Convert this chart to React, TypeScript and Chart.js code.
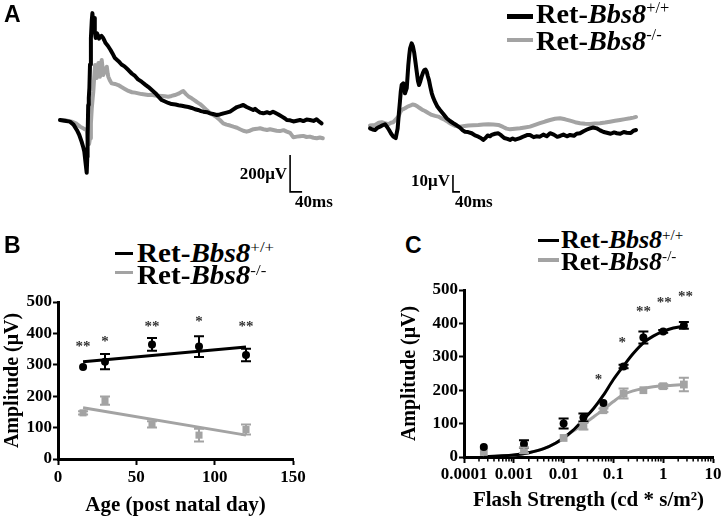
import React, { useEffect, useRef } from 'react';
import { Chart, registerables } from 'chart.js';

Chart.register(...registerables);

const BLACK = '#000000';
const GRAY = '#a3a3a3';
const STAR = '#333333';
const SERIF = '"Liberation Serif", "Times New Roman", Times, serif';
const SANS = '"Liberation Sans", Arial, Helvetica, sans-serif';

// ---------------- Panel A : ERG traces (time in ms, amplitude in µV) ----------------
const aLeftWt: number[][] = [
  [0, 0], [15, -4], [33, -9], [45, -25], [56, -54], [64, -80], [72, -117], [78, -150], [81, -171], [86, -243],
  [89, -286], [91, -200], [92, -97], [94, 81], [96, 120], [98, 173], [100, 300], [103, 443], [106, 540], [108, 578],
  [111, 520], [114, 551], [116, 480], [119, 443], [123, 470], [126, 459], [130, 440], [133, 450], [138, 455], [144, 443],
  [148, 430], [152, 416], [160, 400], [168, 380], [175, 360], [183, 335], [195, 318], [205, 300], [215, 290], [228, 270],
  [240, 250], [250, 238], [260, 220], [272, 207], [285, 190], [295, 178], [306, 162], [318, 145], [329, 125], [339, 108],
  [350, 100], [361, 92], [372, 86], [385, 84], [395, 80], [406, 77], [418, 73], [428, 70], [439, 65], [450, 58],
  [460, 54], [470, 48], [478, 45], [490, 42], [500, 36], [510, 32], [522, 27], [533, 30], [545, 36], [555, 40],
  [567, 45], [578, 57], [590, 70], [600, 75], [611, 81], [622, 70], [633, 62], [644, 54], [650, 60], [656, 52],
  [667, 40], [678, 36], [690, 42], [700, 36], [710, 45], [717, 39], [728, 30], [740, 18], [750, 8], [756, 0],
  [767, -2], [778, -8], [789, -4], [800, 0], [811, -6], [822, 2], [833, 0], [845, -5], [855, 4], [862, -6], [872, -18],
];
const aLeftKo: number[][] = [
  [0, 0], [20, -2], [39, -9], [55, -20], [67, -36], [80, -48], [89, -54], [92, -90], [94, -117], [97, -130],
  [100, -99], [103, -20], [106, 65], [109, 120], [111, 153], [114, 230], [117, 297], [120, 260], [122, 227], [125, 280],
  [128, 308], [130, 260], [133, 234], [136, 290], [139, 324], [142, 280], [144, 243], [150, 270], [156, 288], [159, 250],
  [161, 234], [166, 215], [172, 198], [183, 195], [194, 189], [205, 178], [216, 168], [228, 157], [240, 150], [250, 148],
  [261, 144], [272, 140], [283, 138], [294, 135], [305, 136], [317, 132], [328, 131], [340, 130], [350, 128], [361, 126],
  [372, 130], [383, 135], [395, 142], [405, 152], [411, 157], [420, 140], [430, 125], [439, 117], [450, 105], [458, 95],
  [467, 86], [478, 70], [490, 52], [500, 38], [511, 27], [522, 15], [533, 0], [544, -18], [555, -25], [567, -30],
  [578, -36], [590, -42], [600, -50], [611, -58], [622, -63], [633, -58], [645, -50], [656, -48], [667, -45], [678, -50],
  [690, -54], [700, -50], [711, -54], [722, -58], [733, -60], [745, -55], [756, -63], [767, -70], [778, -94], [789, -90],
  [800, -88], [811, -86], [822, -92], [833, -90], [845, -96], [856, -99], [866, -95], [876, -99],
];
const aRightWt: number[][] = [
  [0, -0.8], [15, -1.5], [29, -1.8], [43, -0.5], [57, 0.2], [72, 1.0], [86, 1.6], [98, 0], [109, -1.8], [121, -4],
  [133, -5.7], [147, -6.6], [158, -0.8], [165, 8], [171, 14.9], [176, 21], [181, 24.7], [190, 25.7], [195, 23], [200, 19.8],
  [210, 22.8], [219, 36.5], [224, 42], [229, 46.3], [238, 49.2], [245, 47.5], [253, 43.4], [260, 38], [267, 32.5], [274, 27],
  [280, 24.7], [288, 27], [295, 29.6], [303, 32], [310, 33.5], [317, 33.8], [324, 32.5], [330, 30], [337, 27.6], [345, 23.5],
  [353, 19.8], [362, 17], [371, 14.9], [385, 12], [400, 10], [420, 7.5], [438, 5.1], [457, 3.5], [476, 2.2], [495, 1],
  [514, -0.4], [530, -2], [543, -2.8], [560, -3], [581, -3.7], [600, -5], [619, -5.7], [633, -6.5], [647, -7.6], [660, -6.5],
  [672, -5], [685, -5.5], [695, -4.7], [715, -4], [733, -3.7], [750, -5], [767, -6.5], [785, -7], [800, -7.6], [815, -6.8],
  [830, -7.5], [857, -6.6], [880, -5.5], [900, -4.7], [914, -4.7], [935, -6], [950, -5.5], [971, -5.7], [990, -4.5], [1010, -5.5],
  [1029, -3.7], [1050, -4.5], [1070, -5.8], [1086, -5.3], [1105, -4.5], [1125, -5.5], [1143, -4.7], [1165, -5.2], [1180, -4], [1200, -3.7],
  [1220, -2.5], [1240, -1.5], [1257, -0.8], [1275, -0.3], [1295, -0.8], [1315, -2], [1335, -3], [1353, -3.4], [1375, -4], [1395, -3.2],
  [1410, -3.7], [1430, -4], [1450, -3], [1467, -3.4], [1490, -3.5], [1505, -2.2], [1520, -1.8],
];
const aRightKo: number[][] = [
  [0, 0.8], [29, 1.2], [50, 2.5], [67, 2.8], [85, 2.2], [105, 1.6], [120, 2.5], [133, 2.8], [148, 4.5], [162, 6.1],
  [172, 8.5], [181, 10], [190, 10.5], [200, 11], [215, 12], [229, 12.5], [243, 13.2], [257, 12.9], [272, 12], [286, 11],
  [300, 10], [314, 9.4], [333, 8.2], [353, 7.1], [372, 6.5], [390, 6.1], [410, 5], [429, 4.1], [448, 2.8], [467, 1.6],
  [490, 0.5], [514, 0.2], [540, 0.5], [562, 0.8], [590, 1.0], [619, 1.2], [648, 1.5], [676, 1.6], [705, 1.4], [733, 1.2],
  [760, 0], [780, -1], [800, -1.4], [828, -1.0], [857, -0.8], [885, -0.3], [914, 0.2], [943, 1.2], [971, 2.2], [1000, 3.2],
  [1029, 4.1], [1057, 4.8], [1086, 5.1], [1115, 4.5], [1143, 3.7], [1172, 2.8], [1200, 2.2], [1229, 1.9], [1257, 1.8], [1285, 2],
  [1314, 2.2], [1343, 2.6], [1371, 3.1], [1400, 3.6], [1429, 4.1], [1457, 4.6], [1486, 5.1], [1505, 5.5], [1520, 5.9],
];
// scale bars: top of vertical bar, corner, end of horizontal bar
const aLeftBar: number[][] = [[767, -189], [767, -389], [807, -389]];
const aLeftBarLabels = ['200μV', '40ms'];
const aRightBar: number[][] = [[474, -28.2], [474, -38.2], [514, -38.2]];
const aRightBarLabels = ['10μV', '40ms'];

// ---------------- Panel B : amplitude vs age ----------------
const bAge = [16, 30, 60, 90, 120];
const bWt = [293, 310, 365, 358, 331];
const bWtErr = [0, 24, 20, 33, 20];
const bKo = [147, 186, 110, 76, 94];
const bKoErr = [5, 13, 10, 20, 16];
const bFitAge = [16, 120];
const bWtFit = [310, 357];
const bKoFit = [163, 76];
const bXTicks = [0, 50, 100, 150];
const bYTicks = [0, 100, 200, 300, 400, 500];
const bStarAge = [16, 30, 60, 90, 120];
const bStarAmp = [357, 373, 421, 437, 421];
const bStarText = ['**', '*', '**', '*', '**'];

// ---------------- Panel C : amplitude vs flash strength ----------------
const cFlash = [0.00025, 0.0016, 0.01, 0.025, 0.063, 0.16, 0.4, 1.0, 2.6];
const cWt = [30, 39, 100, 118, 162, 271, 358, 376, 394];
const cWtErr = [0, 11, 15, 12, 0, 5, 18, 4, 10];
const cKo = [15, 20, 57, 92, 140, 190, 200, 212, 217];
const cKoErr = [0, 8, 0, 10, 5, 15, 0, 6, 20];
const cFitFlash = [0.00025, 0.0005, 0.001, 0.002, 0.004, 0.007, 0.01, 0.015, 0.025, 0.04, 0.063, 0.1, 0.16, 0.25, 0.4, 0.63, 1, 1.6, 2.6];
const cWtFit = [1, 3, 6, 13, 25, 42, 57, 78, 112, 145, 185, 232, 273, 310, 342, 362, 376, 386, 392];
const cKoFit = [1, 3, 6, 13, 25, 42, 57, 76, 98, 120, 142, 166, 187, 198, 205, 210, 213, 215, 217];
const cXTicks = [0.0001, 0.001, 0.01, 0.1, 1, 10];
const cXTickLabels = ['0.0001', '0.001', '0.01', '0.1', '1', '10'];
const cYTicks = [0, 100, 200, 300, 400, 500];
const cStarFlash = [0.05, 0.15, 0.4, 1.05, 2.8];
const cStarAmp = [230, 342, 435, 462, 480];
const cStarText = ['*', '*', '**', '**', '**'];

const legendSup = ['+/+', '-/-'];

// ---------------- helpers ----------------
const pairs = (arr: number[][]) => arr.map(([x, y]) => ({ x, y }));
const pts = (xs: number[], ys: number[]) => xs.map((x, i) => ({ x, y: ys[i] }));

const errorBarPlugin = {
  id: 'errorBars',
  afterDatasetsDraw(chart: any) {
    const { ctx } = chart;
    const ys = chart.scales.y;
    chart.data.datasets.forEach((ds: any, i: number) => {
      if (!ds.errs) return;
      const meta = chart.getDatasetMeta(i);
      ctx.save();
      ctx.strokeStyle = ds.borderColor;
      ctx.lineWidth = 2;
      meta.data.forEach((el: any, j: number) => {
        const e = ds.errs[j];
        if (!e) return;
        const v = ds.data[j].y;
        const t = ys.getPixelForValue(v + e);
        const b = ys.getPixelForValue(v - e);
        const w = 5;
        ctx.beginPath();
        ctx.moveTo(el.x, t);
        ctx.lineTo(el.x, b);
        ctx.moveTo(el.x - w, t);
        ctx.lineTo(el.x + w, t);
        ctx.moveTo(el.x - w, b);
        ctx.lineTo(el.x + w, b);
        ctx.stroke();
      });
      ctx.restore();
    });
  },
};

function starsPlugin(xs: number[], ys: number[], texts: string[], size: number) {
  return {
    id: 'stars',
    afterDatasetsDraw(chart: any) {
      const { ctx, scales } = chart;
      ctx.save();
      ctx.fillStyle = STAR;
      ctx.font = `bold ${size}px ${SERIF}`;
      ctx.textAlign = 'center';
      ctx.textBaseline = 'middle';
      xs.forEach((x, i) => {
        ctx.fillText(texts[i], scales.x.getPixelForValue(x), scales.y.getPixelForValue(ys[i]));
      });
      ctx.restore();
    },
  };
}

function minorTicksPlugin(values: number[]) {
  return {
    id: 'minorTicks',
    afterDraw(chart: any) {
      const { ctx, scales, chartArea } = chart;
      ctx.save();
      ctx.strokeStyle = BLACK;
      ctx.lineWidth = 1.5;
      ctx.beginPath();
      values.forEach((v) => {
        const px = scales.x.getPixelForValue(v);
        ctx.moveTo(px, chartArea.bottom);
        ctx.lineTo(px, chartArea.bottom + 4.5);
      });
      ctx.stroke();
      ctx.restore();
    },
  };
}

function scaleBarTextPlugin(idx: number, labels: string[], size: number, hDx: number, vDy: number) {
  return {
    id: 'scaleBarText',
    afterDatasetsDraw(chart: any) {
      const { ctx } = chart;
      const meta = chart.getDatasetMeta(idx);
      const [p0, p1] = meta.data;
      ctx.save();
      ctx.fillStyle = BLACK;
      ctx.font = `bold ${size}px ${SERIF}`;
      ctx.textBaseline = 'alphabetic';
      ctx.textAlign = 'right';
      ctx.fillText(labels[0], p1.x - 3, (p0.y + p1.y) / 2 + vDy);
      ctx.textAlign = 'left';
      ctx.fillText(labels[1], p1.x + hDx, p1.y + 15);
      ctx.restore();
    },
  };
}

function traceConfig(wt: number[][], ko: number[][], bar: number[][], labels: string[],
  xMin: number, xMax: number, yMin: number, yMax: number, hDx: number, vDy: number): any {
  return {
    type: 'scatter',
    data: {
      datasets: [
        { data: pairs(wt), showLine: true, borderColor: BLACK, borderWidth: 4, pointRadius: 0, borderJoinStyle: 'round', borderCapStyle: 'round' },
        { data: pairs(ko), showLine: true, borderColor: GRAY, borderWidth: 4, pointRadius: 0, borderJoinStyle: 'round', borderCapStyle: 'round' },
        { data: pairs(bar), showLine: true, borderColor: BLACK, borderWidth: 1.6, pointRadius: 0, borderJoinStyle: 'miter' },
      ],
    },
    options: {
      animation: false,
      responsive: false,
      devicePixelRatio: 1,
      events: [],
      layout: { padding: 0 },
      scales: {
        x: { type: 'linear', display: false, min: xMin, max: xMax },
        y: { type: 'linear', display: false, min: yMin, max: yMax },
      },
      plugins: { legend: { display: false }, tooltip: { enabled: false } },
    },
    plugins: [scaleBarTextPlugin(2, labels, 17, hDx, vDy)],
  };
}

const tickFont = { family: SERIF, size: 17, weight: 'bold' as const };
const titleFont = { family: SERIF, size: 20, weight: 'bold' as const };

function yAxis(width: number, ticks: number[], titlePadTop: number): any {
  return {
    type: 'linear',
    min: 0,
    max: 500,
    afterFit: (s: any) => { s.width = width; },
    afterBuildTicks: (s: any) => { s.ticks = ticks.map((v) => ({ value: v })); },
    ticks: { color: BLACK, font: tickFont, padding: 1, autoSkip: false },
    grid: { display: true, drawOnChartArea: false, drawTicks: true, tickLength: 5, tickWidth: 2, tickColor: BLACK },
    border: { display: true, color: BLACK, width: 3 },
    title: { display: true, text: 'Amplitude (μV)', color: BLACK, font: titleFont, padding: { top: titlePadTop, bottom: 0 } },
  };
}

function configB(): any {
  return {
    type: 'scatter',
    data: {
      datasets: [
        { data: pts(bAge, bWt), errs: bWtErr, pointStyle: 'circle', pointRadius: 4, backgroundColor: BLACK, borderColor: BLACK, borderWidth: 0 },
        { data: pts(bAge, bKo), errs: bKoErr, pointStyle: 'rect', pointRadius: 5, backgroundColor: GRAY, borderColor: GRAY, borderWidth: 0 },
        { data: pts(bFitAge, bWtFit), showLine: true, borderColor: BLACK, borderWidth: 3, pointRadius: 0 },
        { data: pts(bFitAge, bKoFit), showLine: true, borderColor: GRAY, borderWidth: 3, pointRadius: 0 },
      ],
    },
    options: {
      animation: false,
      responsive: false,
      devicePixelRatio: 1,
      events: [],
      layout: { padding: { left: 0, top: 17, right: 27, bottom: 0 } },
      scales: {
        x: {
          type: 'linear',
          min: 0,
          max: 150,
          afterFit: (s: any) => { s.height = 59; },
          afterBuildTicks: (s: any) => { s.ticks = bXTicks.map((v) => ({ value: v })); },
          ticks: { color: BLACK, font: tickFont, padding: 2, autoSkip: false, maxRotation: 0 },
          grid: { display: true, drawOnChartArea: false, drawTicks: true, tickLength: 6, tickWidth: 2, tickColor: BLACK },
          border: { display: true, color: BLACK, width: 3 },
          title: { display: true, text: 'Age (post natal day)', color: BLACK, font: { family: SERIF, size: 21, weight: 'bold' }, padding: { top: 0, bottom: 0 } },
        },
        y: yAxis(58, bYTicks, 1),
      },
      plugins: { legend: { display: false }, tooltip: { enabled: false } },
    },
    plugins: [errorBarPlugin, starsPlugin(bStarAge, bStarAmp, bStarText, 15)],
  };
}

function configC(): any {
  const minor: number[] = [];
  for (let e = -4; e <= 0; e++) {
    for (let m = 2; m <= 9; m++) minor.push(m * Math.pow(10, e));
  }
  return {
    type: 'scatter',
    data: {
      datasets: [
        { data: pts(cFlash, cWt), errs: cWtErr, pointStyle: 'circle', pointRadius: 4, backgroundColor: BLACK, borderColor: BLACK, borderWidth: 0 },
        { data: pts(cFlash, cKo), errs: cKoErr, pointStyle: 'rect', pointRadius: 5.5, backgroundColor: GRAY, borderColor: GRAY, borderWidth: 0 },
        { data: pts(cFitFlash, cWtFit), showLine: true, borderColor: BLACK, borderWidth: 3, pointRadius: 0, cubicInterpolationMode: 'monotone' },
        { data: pts(cFitFlash, cKoFit), showLine: true, borderColor: GRAY, borderWidth: 3, pointRadius: 0, cubicInterpolationMode: 'monotone' },
      ],
    },
    options: {
      animation: false,
      responsive: false,
      devicePixelRatio: 1,
      events: [],
      layout: { padding: { left: 7, top: 15, right: 13, bottom: 0 } },
      scales: {
        x: {
          type: 'logarithmic',
          min: 0.0001,
          max: 10,
          afterFit: (s: any) => { s.height = 61; },
          afterBuildTicks: (s: any) => { s.ticks = cXTicks.map((v) => ({ value: v, major: false })); },
          ticks: { color: BLACK, font: tickFont, padding: 1, autoSkip: false, maxRotation: 0, minRotation: 0, callback: (_v: any, i: number) => cXTickLabels[i] },
          grid: { display: true, drawOnChartArea: false, drawTicks: true, tickLength: 6, tickWidth: 2, tickColor: BLACK },
          border: { display: true, color: BLACK, width: 3 },
          title: { display: true, text: 'Flash Strength (cd * s/m²)', color: BLACK, font: { family: SERIF, size: 21, weight: 'bold' }, padding: { top: 0, bottom: 5 } },
        },
        y: yAxis(67, cYTicks, 1),
      },
      plugins: { legend: { display: false }, tooltip: { enabled: false } },
    },
    plugins: [errorBarPlugin, starsPlugin(cStarFlash, cStarAmp, cStarText, 15), minorTicksPlugin(minor)],
  };
}

function ChartBox({ left, top, width, height, make }: { left: number; top: number; width: number; height: number; make: () => any }) {
  const ref = useRef<HTMLCanvasElement>(null);
  useEffect(() => {
    const chart = new Chart(ref.current as HTMLCanvasElement, make());
    return () => chart.destroy();
  }, []);
  return (
    <canvas
      ref={ref}
      width={width}
      height={height}
      style={{ position: 'absolute', left, top, width, height, display: 'block' }}
    />
  );
}

function LegendRow({ lineX, lineW, lineY, lineH, color, textX, baseline, fs, sup, sx }: {
  lineX: number; lineW: number; lineY: number; lineH: number; color: string; textX: number; baseline: number; fs: number; sup: string; sx: number;
}) {
  return (
    <>
      <div style={{ position: 'absolute', left: lineX, top: lineY - lineH / 2, width: lineW, height: lineH, background: color }} />
      <div
        style={{
          position: 'absolute',
          left: textX,
          top: baseline - 0.8375 * fs,
          fontFamily: SERIF,
          fontWeight: 'bold',
          fontSize: fs,
          lineHeight: `${fs}px`,
          whiteSpace: 'nowrap',
          color: BLACK,
          transform: `scaleX(${sx})`,
          transformOrigin: 'left center',
        }}
      >
        Ret-<i>Bbs8</i>
        <span style={{ fontSize: '0.58em', fontWeight: 'normal', position: 'relative', top: '-0.6em' }}>{sup}</span>
      </div>
    </>
  );
}

function PanelLabel({ text, left, baseline }: { text: string; left: number; baseline: number }) {
  const fs = 23;
  return (
    <div style={{ position: 'absolute', left, top: baseline - 0.8465 * fs, fontFamily: SANS, fontWeight: 'bold', fontSize: fs, lineHeight: `${fs}px`, color: BLACK }}>
      {text}
    </div>
  );
}

export default function App() {
  return (
    <div style={{ position: 'fixed', left: 0, top: 0, width: 726, height: 518, background: '#ffffff', overflow: 'hidden' }}>
      <ChartBox left={0} top={0} width={363} height={215}
        make={() => traceConfig(aLeftWt, aLeftKo, aLeftBar, aLeftBarLabels, -200, 1010, -514, 649, 5, 6)} />
      <ChartBox left={363} top={0} width={363} height={215}
        make={() => traceConfig(aRightWt, aRightKo, aRightBar, aRightBarLabels, -40, 2034, -51.8, 74.7, 2, 3)} />
      <ChartBox left={0} top={285} width={320} height={233} make={configB} />
      <ChartBox left={390} top={275} width={336} height={243} make={configC} />

      <PanelLabel text="A" left={4} baseline={22} />
      <PanelLabel text="B" left={4} baseline={253} />
      <PanelLabel text="C" left={405} baseline={253} />

      <LegendRow lineX={507} lineW={26} lineY={16.5} lineH={4.5} color={BLACK} textX={536} baseline={22.7} fs={27.5} sup={legendSup[0]} sx={1.03} />
      <LegendRow lineX={507} lineW={26} lineY={40} lineH={4.5} color={GRAY} textX={536} baseline={50} fs={27.5} sup={legendSup[1]} sx={1.03} />

      <LegendRow lineX={115} lineW={18} lineY={253.5} lineH={3} color={BLACK} textX={137} baseline={261.7} fs={26.5} sup={legendSup[0]} sx={1.1} />
      <LegendRow lineX={115} lineW={18} lineY={272.5} lineH={3.5} color={GRAY} textX={137} baseline={284} fs={26.5} sup={legendSup[1]} sx={1.1} />

      <LegendRow lineX={538} lineW={21} lineY={240} lineH={3} color={BLACK} textX={561} baseline={248.3} fs={25} sup={legendSup[0]} sx={1.04} />
      <LegendRow lineX={538} lineW={21} lineY={260} lineH={3.5} color={GRAY} textX={561} baseline={270} fs={25} sup={legendSup[1]} sx={1.04} />
    </div>
  );
}
